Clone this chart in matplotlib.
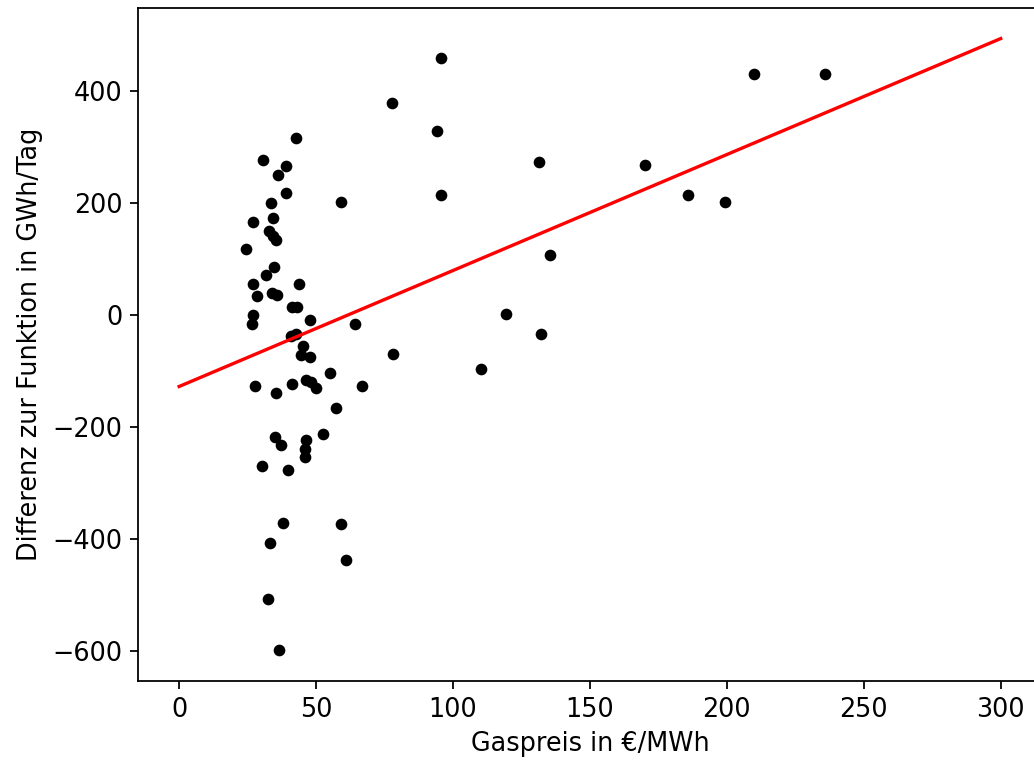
import numpy as np
import matplotlib
matplotlib.use("Agg")
import matplotlib.pyplot as plt

# Gaspreis (EUR/MWh) und Abweichung zur Funktion (GWh/Tag)
gaspreis = [95.7, 77.8, 94.3, 42.7, 30.7, 39.1, 36.2, 39.1, 33.6, 59.2,
            95.7, 27.0, 34.3, 32.9, 34.1, 35.3, 24.6, 34.7, 31.9, 27.0,
            43.7, 28.6, 33.9, 35.6, 41.4, 43.2, 27.0, 26.6, 47.9, 64.3,
            40.8, 42.6, 45.3, 44.5, 47.9, 55.2, 27.8, 35.3, 41.2, 46.3,
            48.1, 49.9, 66.8, 57.2, 52.6, 35.1, 37.1, 46.5, 46.0, 45.8,
            30.4, 39.7, 38.0, 59.2, 33.2, 61.1, 32.5, 36.5,
            131.5, 170.3, 210.1, 235.7, 186.0, 199.5, 135.5, 119.5, 132.3,
            110.3, 78.2]
differenz = [459, 378, 328, 315, 277, 266, 250, 218, 200, 202,
             214, 166, 173, 150, 141, 134, 118, 85, 71, 55,
             55, 33, 39, 36, 13, 13, -1, -16, -9, -16,
             -37, -34, -55, -71, -75, -104, -128, -140, -124, -117,
             -120, -131, -128, -166, -212, -219, -232, -224, -239, -254,
             -270, -277, -371, -374, -407, -437, -508, -599,
             273, 267, 430, 430, 213, 202, 107, 1, -35,
             -97, -70]

# lineare Funktion
achsenabschnitt = -128
steigung = 2.07
fit_x = np.array([0, 300])

plt.rcParams["font.size"] = 11.5

fig = plt.figure(figsize=(1034 / 160, 760 / 160), dpi=160)
ax = fig.add_axes([0.1335, 0.104, 0.874, 0.8855])

ax.scatter(gaspreis, differenz, s=18, color="black")
ax.plot(fit_x, achsenabschnitt + steigung * fit_x, color="red")

ax.set_xlabel("Gaspreis in €/MWh")
ax.set_ylabel("Differenz zur Funktion in GWh/Tag")

fig.savefig("out.png", dpi=160)
